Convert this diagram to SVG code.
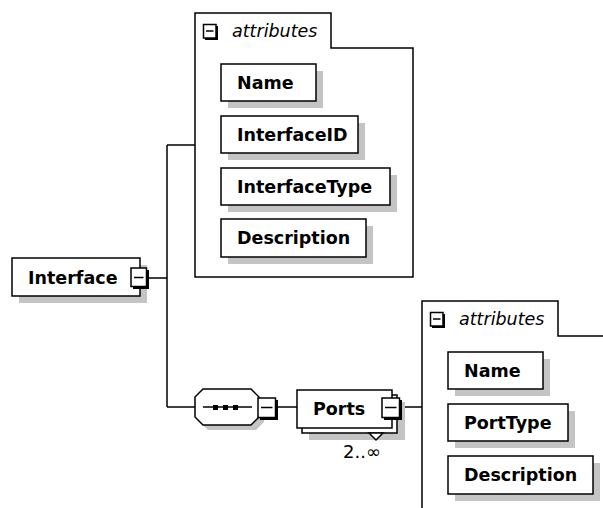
<svg xmlns="http://www.w3.org/2000/svg" width="603" height="508" viewBox="0 0 603 508">
<defs>
<style>
.bx{fill:#fff;stroke:#000;stroke-width:1.5}
.sh{fill:#c4c4c4}
.ln{fill:none;stroke:#000;stroke-width:1.5}
.t{font-family:"DejaVu Sans",Verdana,sans-serif;font-weight:bold;font-size:17.5px;fill:#000}
.a{font-family:"DejaVu Sans",Verdana,sans-serif;font-style:italic;font-size:17.5px;fill:#000}
.m{font-family:"DejaVu Sans",Verdana,sans-serif;font-size:18px;fill:#000}
.ib{fill:#fff;stroke:#000;stroke-width:1.5}
.is{fill:#000}
</style>
</defs>
<rect width="603" height="508" fill="#fff"/>
<g id="connectors">
<path class="ln" d="M149,278 H167 M167,145 V407 M167,145 H195 M167,407 H195 M278,407 H297 M401,407 H422"/>
</g>
<g id="attributes1">
<path class="bx" d="M195,13 H331 V48 H413 V277 H195 Z"/>
<rect class="is" x="205" y="26" width="13" height="14"/>
<rect class="ib" x="203.5" y="24.5" width="12.5" height="13.5"/>
<path class="ln" d="M206,31 H213.5"/>
<text class="a" x="232" y="37">attributes</text>
</g>
<g id="Name1">
<rect class="sh" x="228" y="71" width="95" height="37"/>
<rect class="bx" x="221" y="64" width="95" height="37"/>
<text class="t" x="237" y="89">Name</text>
</g>
<g id="InterfaceID">
<rect class="sh" x="228" y="123" width="137" height="37"/>
<rect class="bx" x="221" y="116" width="137" height="37"/>
<text class="t" x="237" y="141">InterfaceID</text>
</g>
<g id="InterfaceType">
<rect class="sh" x="228" y="175" width="169" height="37"/>
<rect class="bx" x="221" y="168" width="169" height="37"/>
<text class="t" x="237" y="193">InterfaceType</text>
</g>
<g id="Description1">
<rect class="sh" x="228" y="226" width="145" height="38"/>
<rect class="bx" x="221" y="219" width="145" height="38"/>
<text class="t" x="237" y="244">Description</text>
</g>
<g id="Interface">
<rect class="sh" x="19" y="265" width="128" height="38"/>
<rect class="bx" x="12" y="258" width="128" height="38"/>
<text class="t" x="28" y="284">Interface</text>
<rect class="is" x="133" y="270" width="16" height="19"/>
<rect class="ib" x="131" y="268" width="15.5" height="18.5"/>
<path class="ln" d="M134,277.5 H143.5"/>
</g>
<g id="sequence">
<polygon class="sh" points="208,394 256,394 264,402 264,422 256,430 208,430 200,422 200,402"/>
<polygon class="bx" points="203,389 251,389 259,397 259,417 251,425 203,425 195,417 195,397"/>
<path class="ln" d="M203,407 H252"/>
<rect class="is" x="213" y="405" width="5" height="5"/>
<rect class="is" x="223" y="405" width="5" height="5"/>
<rect class="is" x="233" y="405" width="5" height="5"/>
<rect class="is" x="260" y="400" width="18" height="20"/>
<rect class="ib" x="258" y="398" width="17.5" height="19.5"/>
<path class="ln" d="M261,407.5 H272.5"/>
</g>
<g id="Ports">
<rect class="sh" x="309" y="402" width="96" height="38"/>
<rect class="bx" x="302" y="395" width="95" height="38"/>
<polygon class="bx" points="369,433 383,433 376,440"/>
<rect class="bx" x="297" y="390" width="95" height="38"/>
<text class="t" x="313" y="415">Ports</text>
<rect class="is" x="384" y="400" width="18" height="20"/>
<rect class="ib" x="382" y="398" width="17.5" height="19.5"/>
<path class="ln" d="M385,407.5 H396.5"/>
<text class="m" x="343" y="458">2..∞</text>
</g>
<g id="attributes2">
<path class="bx" d="M422,301 H558 V336 H640 V565 H422 Z"/>
<rect class="is" x="432" y="314" width="13" height="14"/>
<rect class="ib" x="430.5" y="312.5" width="12.5" height="13.5"/>
<path class="ln" d="M433,319 H440.5"/>
<text class="a" x="459" y="325">attributes</text>
</g>
<g id="Name2">
<rect class="sh" x="455" y="359" width="95" height="37"/>
<rect class="bx" x="448" y="352" width="95" height="37"/>
<text class="t" x="464" y="377">Name</text>
</g>
<g id="PortType">
<rect class="sh" x="455" y="411" width="120" height="37"/>
<rect class="bx" x="448" y="404" width="120" height="37"/>
<text class="t" x="464" y="429">PortType</text>
</g>
<g id="Description2">
<rect class="sh" x="455" y="463" width="145" height="38"/>
<rect class="bx" x="448" y="456" width="145" height="38"/>
<text class="t" x="464" y="481">Description</text>
</g>
</svg>
